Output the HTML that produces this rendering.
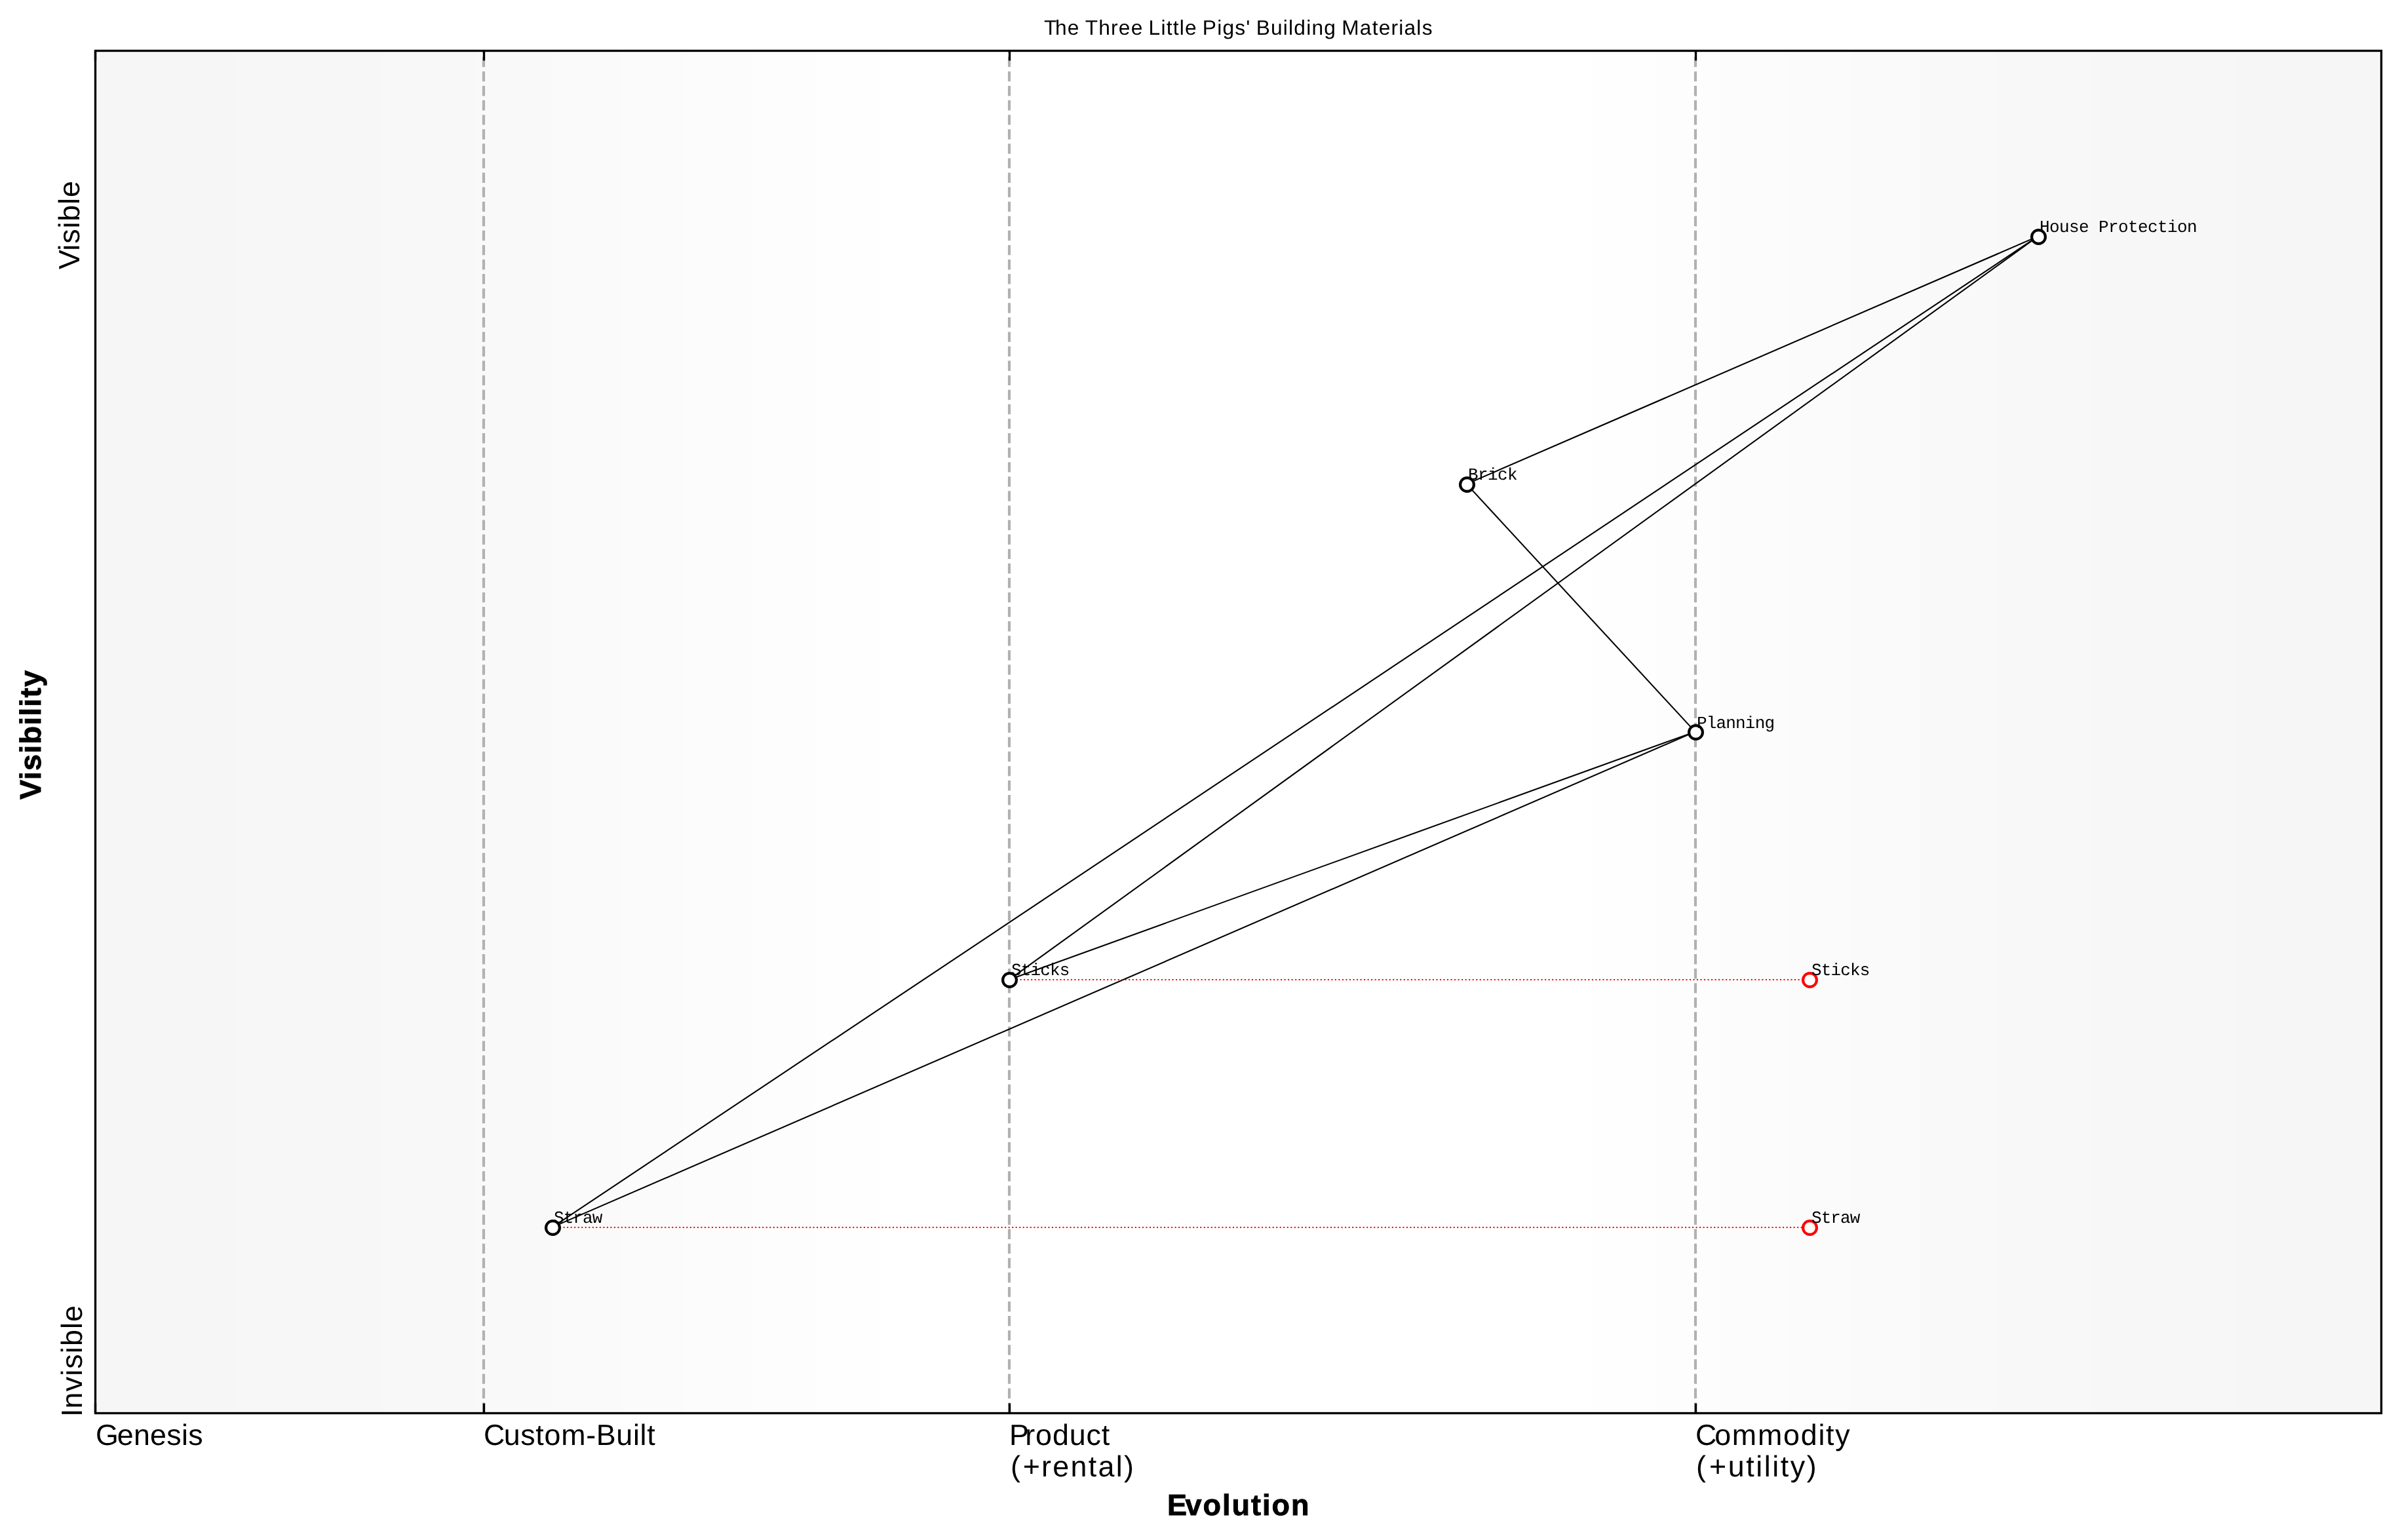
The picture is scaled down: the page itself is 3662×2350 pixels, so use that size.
<!DOCTYPE html>
<html lang="en">
<head>
<meta charset="utf-8">
<title>The Three Little Pigs' Building Materials</title>
<style>
html,body{margin:0;padding:0;background:#fff}
body{position:relative;width:3662px;height:2350px;overflow:hidden;font-family:"Liberation Sans",sans-serif;color:#000}
svg{position:absolute;left:0;top:0;display:block}
.t{position:absolute;will-change:transform;filter:grayscale(1);white-space:nowrap;line-height:1;margin:0;padding:0;font-kerning:none;text-rendering:geometricPrecision;transform-origin:0 0}
.s{font-family:"Liberation Sans",sans-serif;font-weight:400}
.b{font-family:"Liberation Sans",sans-serif;font-weight:700;-webkit-text-stroke:0.9px #000}
.m{font-family:"Liberation Mono",monospace;font-weight:400}
.r{transform:rotate(-90deg)}

</style>
</head>
<body>
<svg width="3662" height="2350" viewBox="0 0 3662 2350">
<g shape-rendering="crispEdges">
<rect x="145" y="77" width="213" height="2080" fill="#f6f6f6"/>
<rect x="358" y="77" width="223" height="2080" fill="#f7f7f7"/>
<rect x="581" y="77" width="145" height="2080" fill="#f8f8f8"/>
<rect x="726" y="77" width="118" height="2080" fill="#f9f9f9"/>
<rect x="844" y="77" width="104" height="2080" fill="#fafafa"/>
<rect x="948" y="77" width="96" height="2080" fill="#fbfbfb"/>
<rect x="1044" y="77" width="104" height="2080" fill="#fcfcfc"/>
<rect x="1148" y="77" width="96" height="2080" fill="#fdfdfd"/>
<rect x="1244" y="77" width="100" height="2080" fill="#fefefe"/>
<rect x="1344" y="77" width="1085" height="2080" fill="#ffffff"/>
<rect x="2429" y="77" width="100" height="2080" fill="#fefefe"/>
<rect x="2529" y="77" width="95" height="2080" fill="#fdfdfd"/>
<rect x="2624" y="77" width="105" height="2080" fill="#fcfcfc"/>
<rect x="2729" y="77" width="95" height="2080" fill="#fbfbfb"/>
<rect x="2824" y="77" width="105" height="2080" fill="#fafafa"/>
<rect x="2929" y="77" width="118" height="2080" fill="#f9f9f9"/>
<rect x="3047" y="77" width="145" height="2080" fill="#f8f8f8"/>
<rect x="3192" y="77" width="223" height="2080" fill="#f7f7f7"/>
<rect x="3415" y="77" width="219" height="2080" fill="#f6f6f6"/>
</g>
<g stroke="#b1b1b1" stroke-width="4.1667" stroke-dasharray="15.4167 6.6667" fill="none">
<path d="M738 2156V77"/>
<path d="M1540 2156V77"/>
<path d="M2587 2156V77"/>
</g>
<g stroke="#000" stroke-width="2.0833" fill="none">
<path d="M3109.625 360.65L2237.75 738.65"/>
<path d="M3109.625 360.65L1540.25 1494.65"/>
<path d="M3109.625 360.65L842.75 1872.65"/>
<path d="M2237.75 738.65L2586.5 1116.65"/>
<path d="M2586.5 1116.65L1540.25 1494.65"/>
<path d="M2586.5 1116.65L842.75 1872.65"/>
</g>
<g stroke="#f00" stroke-width="2.0833" stroke-dasharray="2.0833 3.4375" fill="none">
<path d="M1540 1495H2761"/>
<path d="M843 1873H2761"/>
</g>
<g fill="#fff" stroke-width="4.1667">
<circle cx="2761.5" cy="1495.5" r="10.4167" stroke="#f00"/>
<circle cx="2761.5" cy="1873.5" r="10.4167" stroke="#f00"/>
<circle cx="3110.5" cy="361.5" r="10.4167" stroke="#000"/>
<circle cx="2238.5" cy="739.5" r="10.4167" stroke="#000"/>
<circle cx="2587.5" cy="1117.5" r="10.4167" stroke="#000"/>
<circle cx="1540.5" cy="1495.5" r="10.4167" stroke="#000"/>
<circle cx="843.5" cy="1873.5" r="10.4167" stroke="#000"/>
</g>
<g stroke="#000" stroke-width="3.3333" fill="none">
<path d="M145.5 77.5V92.5M145.5 2141.5V2156.5"/>
<path d="M738.5 77.5V92.5M738.5 2141.5V2156.5"/>
<path d="M1540.5 77.5V92.5M1540.5 2141.5V2156.5"/>
<path d="M2587.5 77.5V92.5M2587.5 2141.5V2156.5"/>
</g>
<rect x="145.5" y="77.5" width="3488" height="2079" fill="none" stroke="#000" stroke-width="3.3333"/>
</svg>
<div class="t s" id="title" style="left:1593px;top:27px;font-size:31.7px;letter-spacing:1.22px;word-spacing:-2px"><span style="letter-spacing:-2.43px">T</span>he Three Little Pigs&#39; Building Materials</div>
<div class="t b" id="xlabel" style="left:1781px;top:2274px;font-size:45px;letter-spacing:1.985px"><span style="letter-spacing:-2.415px">E</span>volution</div>
<div class="t b r" id="ylabel" style="left:24px;top:1220px;font-size:45px;letter-spacing:1.503px"><span style="letter-spacing:0.043px">V</span>isibility</div>
<div class="t s" id="xt0" style="left:146px;top:2168px;font-size:44.8px;letter-spacing:0.265px"><span style="letter-spacing:-2.135px">G</span>enesis</div>
<div class="t s" id="xt1" style="left:738px;top:2168px;font-size:44.8px;letter-spacing:0.7px"><span style="letter-spacing:-1.7px">C</span>ustom-Built</div>
<div class="t s" id="xt2a" style="left:1540px;top:2168px;font-size:44.8px;letter-spacing:0.861px"><span style="letter-spacing:-5.539px">P</span>roduct</div>
<div class="t s" id="xt2b" style="left:1542px;top:2216px;font-size:44.8px;letter-spacing:2.312px"><span style="letter-spacing:3.712px">(</span>+rental)</div>
<div class="t s" id="xt3a" style="left:2587px;top:2168px;font-size:44.8px;letter-spacing:1.775px"><span style="letter-spacing:-3.225px">C</span>ommodity</div>
<div class="t s" id="xt3b" style="left:2588px;top:2216px;font-size:44.8px;letter-spacing:2.576px"><span style="letter-spacing:4.976px">(</span>+utility)</div>
<div class="t s r" id="yt0" style="left:88px;top:2162px;font-size:44.8px;letter-spacing:1.136px"><span style="letter-spacing:0.136px">I</span>nvisible</div>
<div class="t s r" id="yt1" style="left:84px;top:411px;font-size:44.8px;letter-spacing:0.877px"><span style="letter-spacing:-1.523px">V</span>isible</div>
<div class="t m" id="n_hp" style="left:3112px;top:334px;font-size:26px;letter-spacing:-0.6px">House Protection</div>
<div class="t m" id="n_brick" style="left:2240px;top:712px;font-size:26px;letter-spacing:-0.612px">Brick</div>
<div class="t m" id="n_plan" style="left:2589px;top:1091px;font-size:26px;letter-spacing:-0.831px">Planning</div>
<div class="t m" id="n_sticks" style="left:1543px;top:1468px;font-size:26px;letter-spacing:-0.831px">Sticks</div>
<div class="t m" id="n_straw" style="left:845px;top:1846px;font-size:26px;letter-spacing:-0.941px">Straw</div>
<div class="t m" id="e_sticks" style="left:2764px;top:1468px;font-size:26px;letter-spacing:-0.831px">Sticks</div>
<div class="t m" id="e_straw" style="left:2764px;top:1846px;font-size:26px;letter-spacing:-0.941px">Straw</div>
</body>
</html>
